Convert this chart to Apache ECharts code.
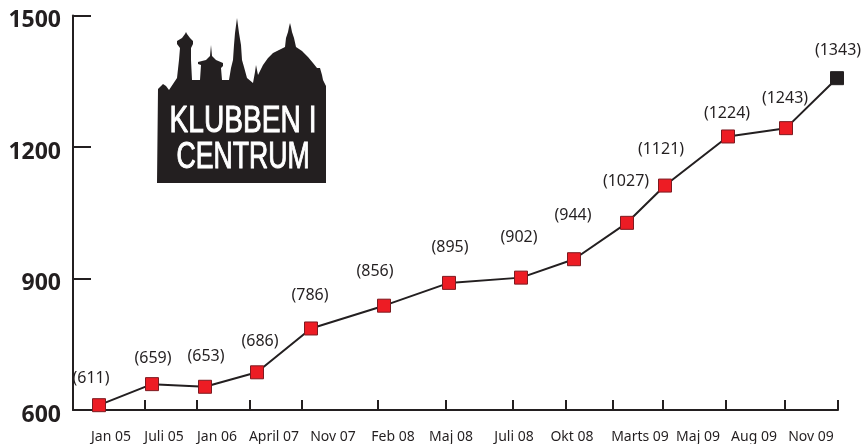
<!DOCTYPE html>
<html>
<head>
<meta charset="utf-8">
<style>
  html, body { margin: 0; padding: 0; background: #fff; }
  #chart { width: 865px; height: 444px; }
</style>
<script src="https://cdn.jsdelivr.net/npm/echarts@6/dist/echarts.min.js"></script>
</head>
<body>
<div id="chart"></div>
<script>
// printed member counts
const printedValues = [611, 659, 653, 686, 786, 856, 895, 902, 944, 1027, 1121, 1224, 1243, 1343];
// marker heights (a few sit away from their printed number)
const plottedValues = [611, 659, 653, 686, 786, 838, 890, 902, 944, 1027, 1112, 1224, 1243, 1357];
const pointSpots = [26, 79, 132, 184, 238, 311, 376, 448, 501, 554, 592, 655, 713, 764];
const tickSpots = [72, 124, 177, 229, 305, 373, 440, 493, 540, 590, 653, 712, 765];
const monthSpots = [38, 91, 144, 201, 260, 320, 378, 441, 499, 567, 625, 681, 738];
const monthLabels = ["Jan 05", "Juli 05", "Jan 06", "April 07", "Nov 07", "Feb 08", "Maj 08", "Juli 08", "Okt 08", "Marts 09", "Maj 09", "Aug 09", "Nov 09"];
const yTicks = [600, 900, 1200, 1500];

// where each number sits relative to its marker
const labelOffsets = [[-8, -27], [1, -26], [1, -30], [3, -31], [-1, -33], [-9, -34], [1, -35], [-2, -40], [-1, -44], [-1, -41], [-4, -36], [-1, -23], [-1, -30], [1, -28]];

const INK = "#231f20";
const FONT = '"Noto Sans", sans-serif';
const LOGO_FONT = '"Liberation Sans", sans-serif';

// logo outline
const skyline = [[157,183],[158,89],[160,87],[163,84],[166,86],[169,90],[175,81],[177,78],[179,60],[180,48],[177,44],[177,41],[182,38],[185,34],[186,32],[187,34],[190,38],[193,41],[193,44],[191,48],[191,60],[192,80],[200,80],[201,65],[198,64],[198,62],[206,60],[210,56],[211,45],[212,56],[216,60],[223,63],[223,66],[221,68],[222,80],[229,80],[231,68],[233,60],[234,45],[235,33],[237,18],[239,33],[241,45],[242,60],[244,67],[247,78],[253,83],[255,72],[256,65],[258,75],[263,65],[268,58],[273,53],[279,50],[285,47],[286,38],[288,32],[289,27],[290,23],[291,27],[292,32],[294,38],[296,47],[302,51],[308,57],[313,63],[317,68],[320,68],[322,75],[323,80],[326,86],[326,183]];

const myChart = echarts.init(document.getElementById("chart"), null, { renderer: "canvas" });

myChart.setOption({
  backgroundColor: "#fff",
  animation: false,
  grid: { left: 73, right: 27, top: 15.5, bottom: 32.5 },
  xAxis: [
    {
      type: "value",
      min: 0,
      max: 765,
      axisLine: { lineStyle: { color: INK, width: 2 } },
      axisTick: { inside: true, length: 10, customValues: tickSpots, lineStyle: { color: INK, width: 2 } },
      axisLabel: { show: false },
      splitLine: { show: false },
    },
    {
      type: "value",
      position: "bottom",
      min: 0,
      max: 765,
      axisLine: { show: false },
      axisTick: { show: false },
      axisLabel: {
        customValues: monthSpots,
        formatter: (v) => monthLabels[monthSpots.indexOf(v)],
        color: INK,
        fontFamily: FONT,
        fontSize: 14,
        margin: 20,
      },
      splitLine: { show: false },
    },
  ],
  yAxis: {
    type: "value",
    min: 600,
    max: 1500,
    interval: 300,
    axisLine: { show: true, onZero: false, lineStyle: { color: INK, width: 2 } },
    axisTick: { show: true, inside: true, length: 18, lineStyle: { color: INK, width: 2 } },
    axisLabel: {
      color: INK,
      fontFamily: FONT,
      fontWeight: "bold",
      fontSize: 23,
      margin: 12,
      verticalAlign: "top",
      lineHeight: 10,
      formatter: (v) => (yTicks.includes(v) ? String(v) : ""),
    },
    splitLine: { show: false },
  },
  series: [
    {
      type: "line",
      xAxisIndex: 0,
      clip: false,
      symbol: "rect",
      symbolSize: 13,
      lineStyle: { color: INK, width: 2 },
      data: plottedValues.map((v, i) => {
        const last = i === plottedValues.length - 1;
        return {
          value: [pointSpots[i], v],
          itemStyle: last
            ? { color: INK, borderColor: INK, borderWidth: 1 }
            : { color: "#ed1c24", borderColor: "#7d1a20", borderWidth: 1 },
          label: {
            show: true,
            position: "inside",
            offset: labelOffsets[i],
            formatter: "(" + printedValues[i] + ")",
            color: INK,
            fontFamily: FONT,
            fontSize: 16,
          },
        };
      }),
    },
  ],
  graphic: [
    { type: "polygon", shape: { points: skyline }, style: { fill: INK } },
    {
      type: "text",
      x: 243,
      y: 122,
      scaleX: 0.76,
      style: {
        text: "KLUBBEN I",
        fill: "#fff",
        stroke: "#fff",
        lineWidth: 1,
        fontFamily: LOGO_FONT,
        fontSize: 37,
        align: "center",
        verticalAlign: "middle",
      },
    },
    {
      type: "text",
      x: 243,
      y: 158,
      scaleX: 0.72,
      style: {
        text: "CENTRUM",
        fill: "#fff",
        stroke: "#fff",
        lineWidth: 1,
        fontFamily: LOGO_FONT,
        fontSize: 37,
        align: "center",
        verticalAlign: "middle",
      },
    },
  ],
});
</script>
</body>
</html>
